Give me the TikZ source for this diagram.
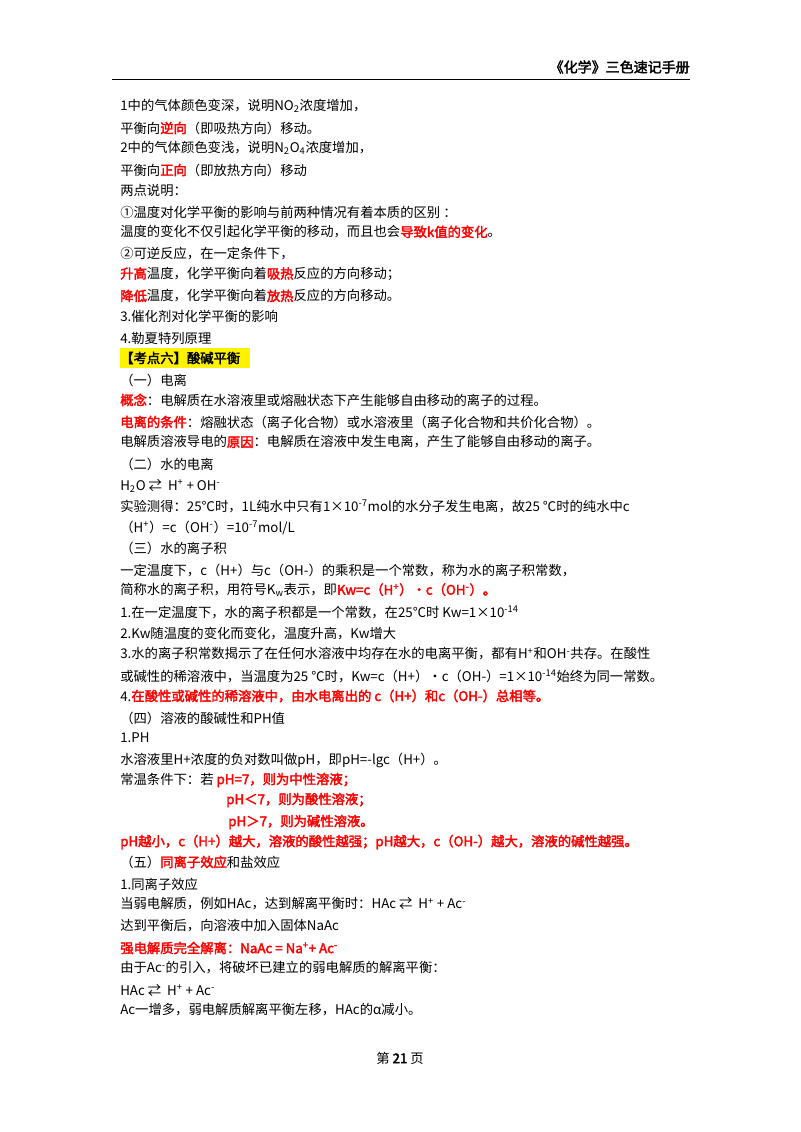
\documentclass[tikz,border=0pt]{standalone}
\usepackage{fontspec}
\setmainfont[AutoFakeBold=2.5]{Noto Sans CJK SC}
\begin{document}
\begin{tikzpicture}[x=0.75pt,y=-0.75pt,
  tl/.style={anchor=west,inner sep=0pt,font=\fontsize{10}{12}\selectfont},
  R/.style={text=red,font=\fontsize{10}{12}\selectfont\bfseries}]
\newcommand\rb[1]{\textcolor{red}{\textbf{#1}}}
\newcommand\up[1]{\textsuperscript{#1}}
\newcommand\dn[1]{\textsubscript{#1}}
\useasboundingbox (0,0) rectangle (800,1132);
\fill[white] (0,0) rectangle (800,1132);
\node[tl,anchor=east,font=\fontsize{10.5}{12}\selectfont\bfseries] (hd) at (690,67) {《化学》三色速记手册};
\draw[line width=0.6pt] (112,79) -- (690,79);
\node[tl] (l1) at (120,106) {1中的气体颜色变深，说明NO\dn{2}浓度增加，};
\node[tl] (l2) at (120,128) {平衡向\rb{逆向}（即吸热方向）移动。};
\node[tl] (l3) at (120,148) {2中的气体颜色变浅，说明N\dn{2}O\dn{4}浓度增加，};
\node[tl] (l4) at (120,170) {平衡向\rb{正向}（即放热方向）移动};
\node[tl] (l5) at (120,190) {两点说明：};
\node[tl] (l6) at (120,212) {①温度对化学平衡的影响与前两种情况有着本质的区别 ：};
\node[tl] (l7) at (120,232) {温度的变化不仅引起化学平衡的移动，而且也会\rb{导致k值的变化}。};
\node[tl] (l8) at (120,254) {②可逆反应，在一定条件下，};
\node[tl] (l9) at (120,274) {\rb{升高}温度，化学平衡向着\rb{吸热}反应的方向移动；};
\node[tl] (l10) at (120,296) {\rb{降低}温度，化学平衡向着\rb{放热}反应的方向移动。};
\node[tl] (l11) at (120,316) {3.催化剂对化学平衡的影响};
\node[tl] (l12) at (120,338) {4.勒夏特列原理};
\fill[yellow] (120,348) rectangle (250,368);
\node[tl,font=\fontsize{10}{12}\selectfont\bfseries] (l13) at (120,358) {【考点六】酸碱平衡};
\node[tl] (l14) at (120,380) {（一）电离};
\node[tl] (l15) at (120,400) {\rb{概念}：电解质在水溶液里或熔融状态下产生能够自由移动的离子的过程。};
\node[tl] (l16) at (120,422) {\rb{电离的条件}：熔融状态（离子化合物）或水溶液里（离子化合物和共价化合物）。};
\node[tl] (l17) at (120,442) {电解质溶液导电的\rb{原因}：电解质在溶液中发生电离，产生了能够自由移动的离子。};
\node[tl] (l18) at (120,464) {（二）水的电离};
\node[tl] (l19) at (120,486) {H\dn{2}O ⇄ \ H\up{+} + OH\up{-}};
\node[tl] (l20) at (120,506) {实验测得：25℃时，1L纯水中只有1×10\up{-7}mol的水分子发生电离，故25 ℃时的纯水中c};
\node[tl] (l21) at (120,528) {（H\up{+}）=c（OH\up{-}）=10\up{-7}mol/L};
\node[tl] (l22) at (120,548) {（三）水的离子积};
\node[tl] (l23) at (120,570) {一定温度下，c（H+）与c（OH-）的乘积是一个常数，称为水的离子积常数，};
\node[tl] (l24) at (120,590) {简称水的离子积，用符号K\dn{w}表示，即\rb{Kw=c（H\up{+}）·c（OH\up{-}）。}};
\node[tl] (l25) at (120,612) {1.在一定温度下，水的离子积都是一个常数，在25℃时 Kw=1×10\up{-14}};
\node[tl] (l26) at (120,634) {2.Kw随温度的变化而变化，温度升高，Kw增大};
\node[tl] (l27) at (120,654) {3.水的离子积常数揭示了在任何水溶液中均存在水的电离平衡，都有H\up{+}和OH\up{-}共存。在酸性};
\node[tl] (l28) at (120,676) {或碱性的稀溶液中，当温度为25 ℃时，Kw=c（H+）·c（OH-）=1×10\up{-14}始终为同一常数。};
\node[tl] (l29) at (120,696) {4.\rb{在酸性或碱性的稀溶液中，由水电离出的 c（H+）和c（OH-）总相等。}};
\node[tl] (l30) at (120,718) {（四）溶液的酸碱性和PH值};
\node[tl] (l31) at (120,738) {1.PH};
\node[tl] (l32) at (120,760) {水溶液里H+浓度的负对数叫做pH，即pH=-lgc（H+）。};
\node[tl] (l33) at (120,780) {常温条件下：若 \rb{pH=7，则为中性溶液；}};
\node[tl] (l34) at (226,800) {\rb{pH＜7，则为酸性溶液；}};
\node[tl] (l35) at (228,822) {\rb{pH＞7，则为碱性溶液。}};
\node[tl] (l36) at (120,842) {\rb{pH越小，c（H+）越大，溶液的酸性越强；pH越大，c（OH-）越大，溶液的碱性越强。}};
\node[tl] (l37) at (120,862) {（五）\rb{同离子效应}和盐效应};
\node[tl] (l38) at (120,884) {1.同离子效应};
\node[tl] (l39) at (120,904) {当弱电解质，例如HAc，达到解离平衡时：HAc ⇄ \ H\up{+} + Ac\up{-}};
\node[tl] (l40) at (120,926) {达到平衡后，向溶液中加入固体NaAc};
\node[tl] (l41) at (120,948) {\rb{强电解质完全解离：NaAc = Na\up{+}+ Ac\up{-}}};
\node[tl] (l42) at (120,968) {由于Ac\up{-}的引入，将破坏已建立的弱电解质的解离平衡：};
\node[tl] (l43) at (120,990) {HAc ⇄ \ H\up{+} + Ac\up{-}};
\node[tl] (l44) at (120,1010) {Ac一增多，弱电解质解离平衡左移，HAc的α减小。};
\node[tl,anchor=center] (ft) at (400,1058) {第 \textbf{21} 页};
\end{tikzpicture}
\end{document}
